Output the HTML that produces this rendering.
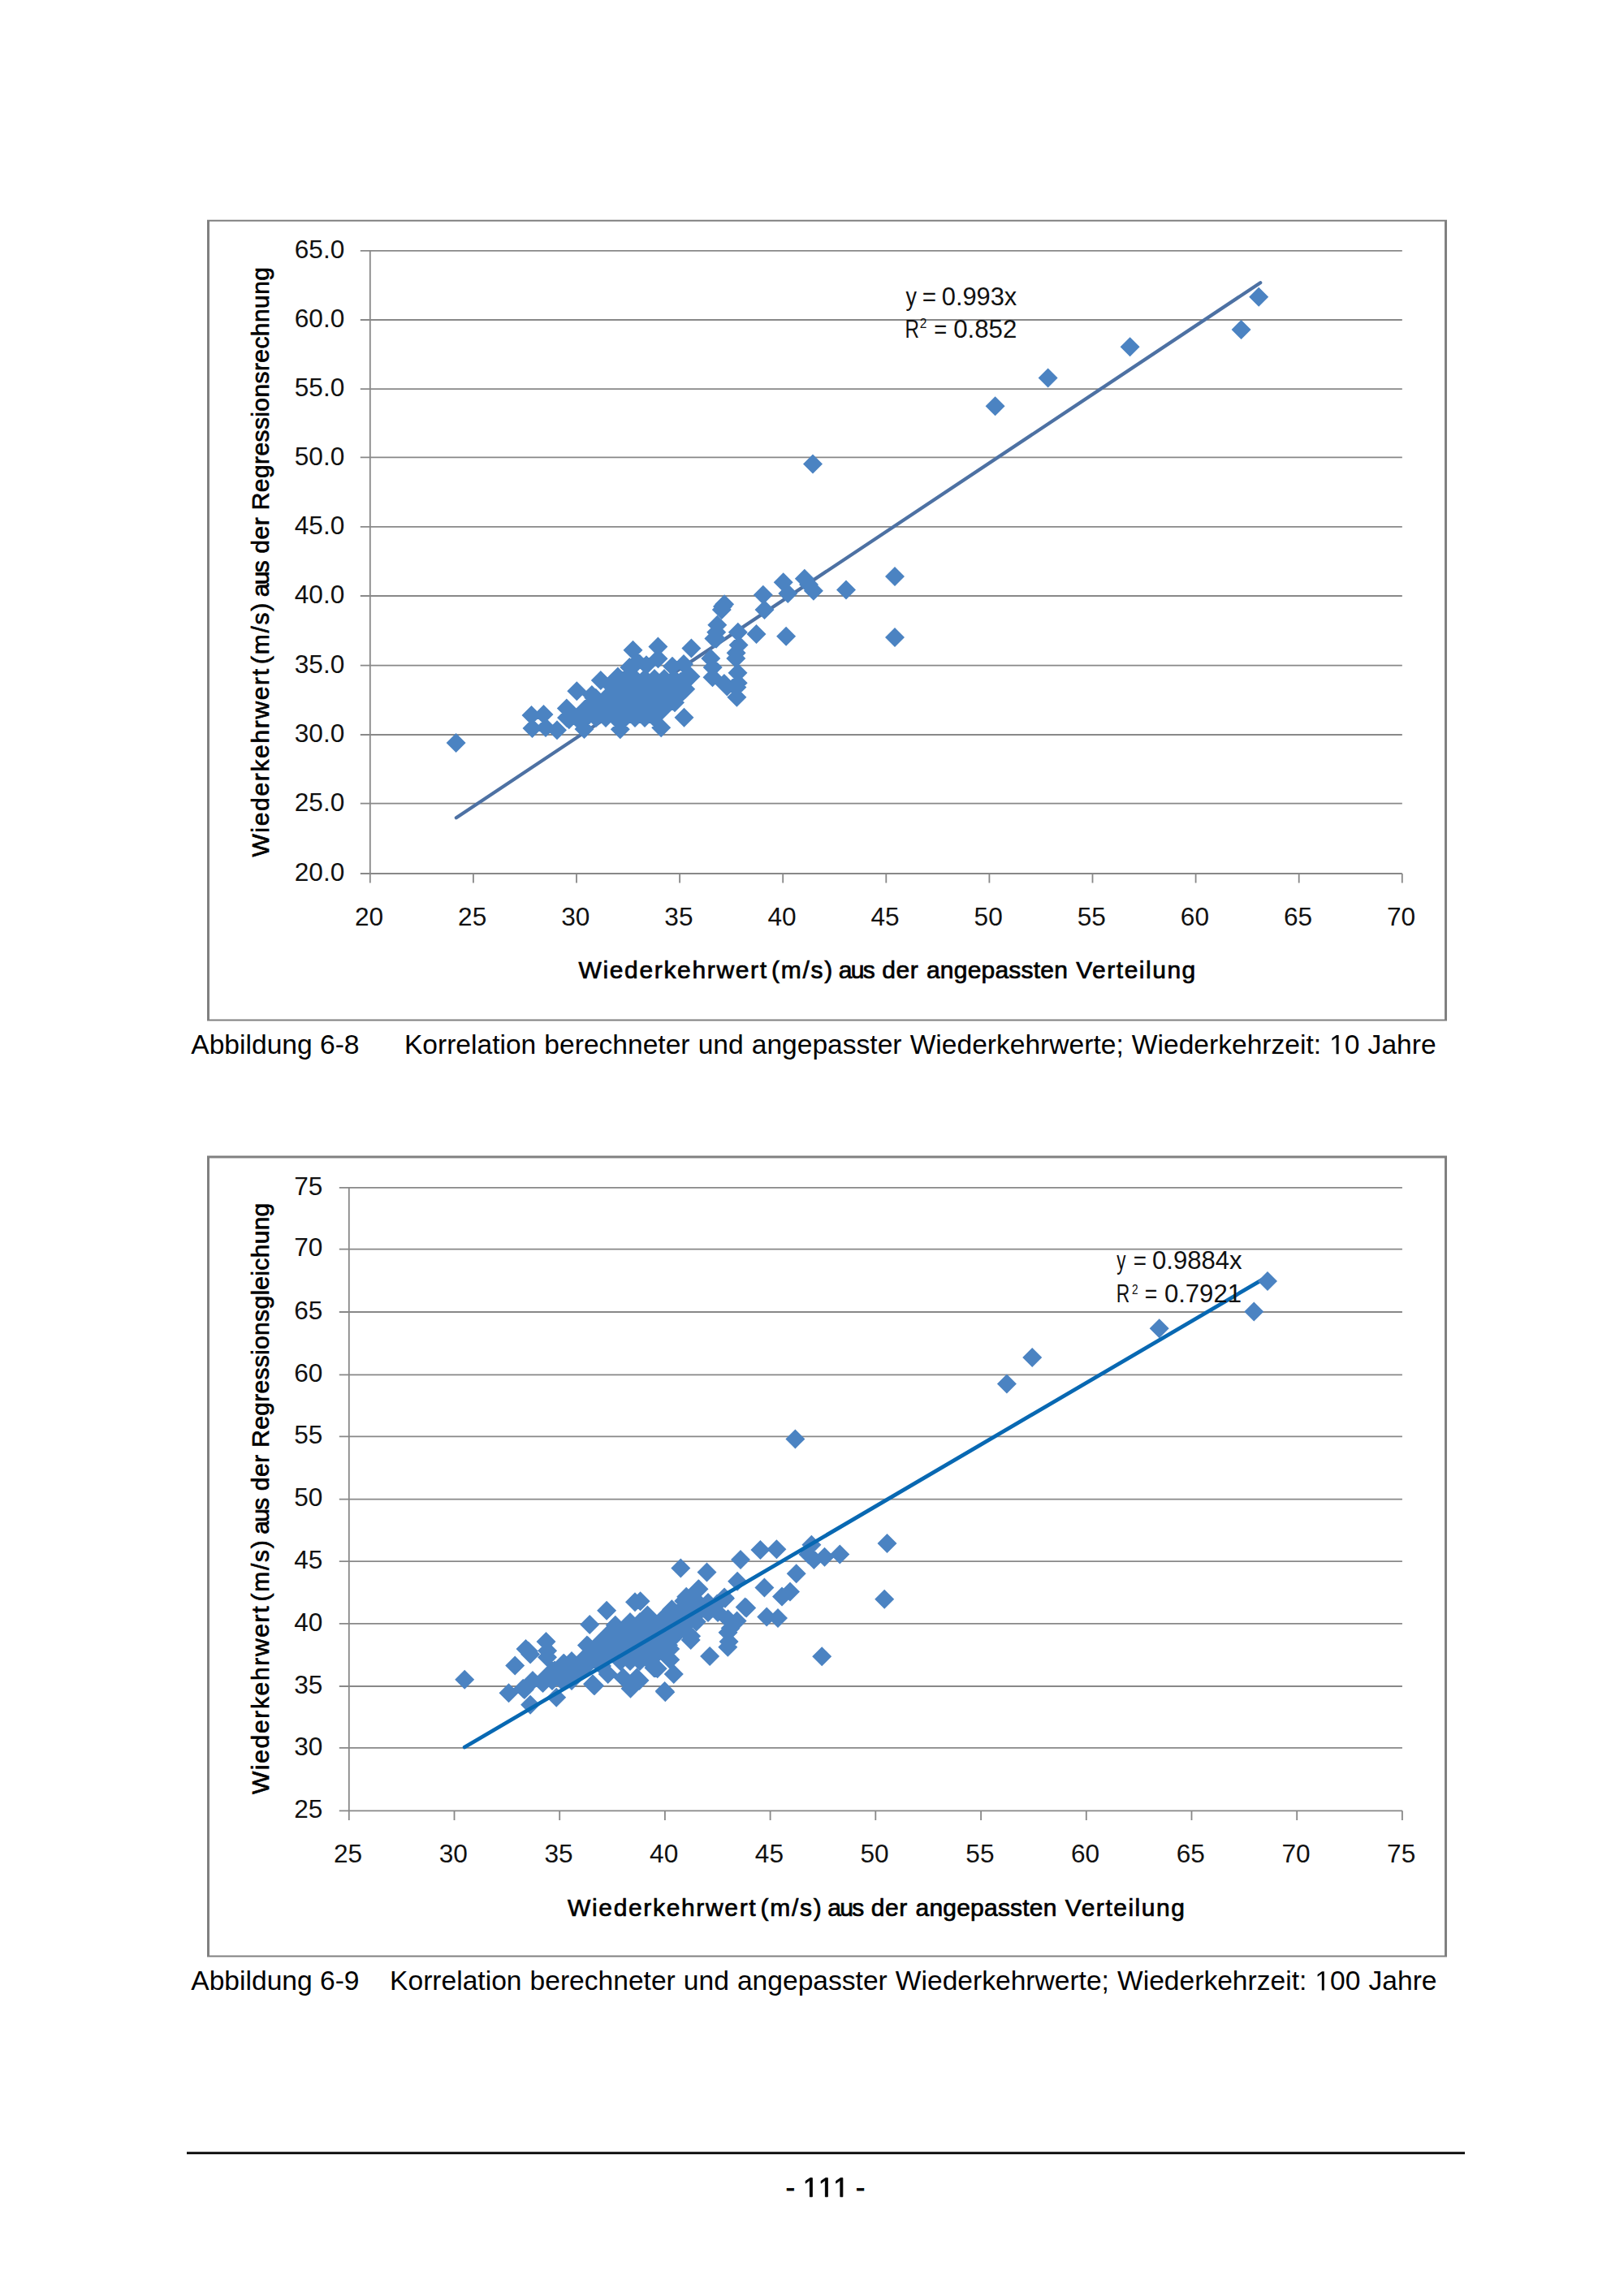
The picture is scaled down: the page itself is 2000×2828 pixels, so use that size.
<!DOCTYPE html>
<html><head><meta charset="utf-8"><title>Abbildung 6-8 / 6-9</title>
<style>
html,body{margin:0;padding:0;background:#fff;}
body{width:2000px;height:2828px;overflow:hidden;position:relative;font-family:"Liberation Sans",sans-serif;}
svg{position:absolute;left:0;top:0;}
svg text{font-family:"Liberation Sans",sans-serif;}
</style></head><body>
<svg width="2000" height="2828" viewBox="0 0 2000 2828">
<path fill="#808080" d="M255.0 270.8H1782.0V1257.5H255.0Z M258.0 272.8V1255.5H1779.0V272.8Z" fill-rule="evenodd"/>
<path d="M443.8 1076.0H1726.8M443.8 989.6H1726.8M443.8 905.0H1726.8M443.8 819.6H1726.8M443.8 734.0H1726.8M443.8 648.8H1726.8M443.8 563.3H1726.8M443.8 479.1H1726.8M443.8 394.0H1726.8M443.8 308.8H1726.8M455.8 1076.0V1087.6M582.9 1076.0V1087.6M710.0 1076.0V1087.6M837.1 1076.0V1087.6M964.2 1076.0V1087.6M1091.3 1076.0V1087.6M1218.4 1076.0V1087.6M1345.5 1076.0V1087.6M1472.6 1076.0V1087.6M1599.7 1076.0V1087.6M1726.8 1076.0V1087.6M455.8 308.8V1076.0" stroke="#888888" stroke-width="1.8" fill="none"/>
<g font-size="31.6" fill="#111"><text x="424.3" y="1085.2" text-anchor="end">20.0</text><text x="424.3" y="998.8" text-anchor="end">25.0</text><text x="424.3" y="914.2" text-anchor="end">30.0</text><text x="424.3" y="828.8" text-anchor="end">35.0</text><text x="424.3" y="743.2" text-anchor="end">40.0</text><text x="424.3" y="658.0" text-anchor="end">45.0</text><text x="424.3" y="572.5" text-anchor="end">50.0</text><text x="424.3" y="488.3" text-anchor="end">55.0</text><text x="424.3" y="403.2" text-anchor="end">60.0</text><text x="424.3" y="317.9" text-anchor="end">65.0</text><text x="454.6" y="1139.6" text-anchor="middle">20</text><text x="581.7" y="1139.6" text-anchor="middle">25</text><text x="708.8" y="1139.6" text-anchor="middle">30</text><text x="835.9" y="1139.6" text-anchor="middle">35</text><text x="963.0" y="1139.6" text-anchor="middle">40</text><text x="1090.1" y="1139.6" text-anchor="middle">45</text><text x="1217.2" y="1139.6" text-anchor="middle">50</text><text x="1344.3" y="1139.6" text-anchor="middle">55</text><text x="1471.4" y="1139.6" text-anchor="middle">60</text><text x="1598.5" y="1139.6" text-anchor="middle">65</text><text x="1725.6" y="1139.6" text-anchor="middle">70</text></g>
<g font-size="30" fill="#000" stroke="#000" stroke-width="0.7">
<text x="712.40" y="1205.4" textLength="231.69" lengthAdjust="spacing">Wiederkehrwert</text><text x="950.00" y="1205.4" textLength="75.20" lengthAdjust="spacing">(m/s)</text><text x="1032.77" y="1205.4" textLength="44.89" lengthAdjust="spacing">aus</text><text x="1086.16" y="1205.4" textLength="44.50" lengthAdjust="spacing">der</text><text x="1140.96" y="1205.4" textLength="173.86" lengthAdjust="spacing">angepassten</text><text x="1325.21" y="1205.4" textLength="147.05" lengthAdjust="spacing">Verteilung</text>
<g transform="translate(330.5 1055.8) rotate(-90)"><text x="0.20" y="0.0" textLength="231.69" lengthAdjust="spacing">Wiederkehrwert</text><text x="237.80" y="0.0" textLength="75.20" lengthAdjust="spacing">(m/s)</text><text x="320.57" y="0.0" textLength="44.89" lengthAdjust="spacing">aus</text><text x="373.96" y="0.0" textLength="44.50" lengthAdjust="spacing">der</text><text x="427.53" y="0.0" textLength="299.21" lengthAdjust="spacing">Regressionsrechnung</text></g>
</g>
<line x1="561.9" y1="1007.2" x2="1552.2" y2="348.2" stroke="#4d71a3" stroke-width="4.3" stroke-linecap="round"/>
<path fill="#4b83c2" d="M654.5 869.0L666.5 881.0L654.5 893.0L642.5 881.0ZM669.5 868.0L681.5 880.0L669.5 892.0L657.5 880.0ZM655.5 885.0L667.5 897.0L655.5 909.0L643.5 897.0ZM672.0 884.0L684.0 896.0L672.0 908.0L660.0 896.0ZM686.0 887.3L698.0 899.3L686.0 911.3L674.0 899.3ZM697.8 860.4L709.8 872.4L697.8 884.4L685.8 872.4ZM700.8 874.2L712.8 886.2L700.8 898.2L688.8 886.2ZM710.3 839.3L722.3 851.3L710.3 863.3L698.3 851.3ZM719.5 886.0L731.5 898.0L719.5 910.0L707.5 898.0ZM739.8 826.0L751.8 838.0L739.8 850.0L727.8 838.0ZM731.3 847.6L743.3 859.6L731.3 871.6L719.3 859.6ZM763.8 886.3L775.8 898.3L763.8 910.3L751.8 898.3ZM779.5 788.8L791.5 800.8L779.5 812.8L767.5 800.8ZM775.3 810.1L787.3 822.1L775.3 834.1L763.3 822.1ZM810.4 784.6L822.4 796.6L810.4 808.6L798.4 796.6ZM851.4 786.5L863.4 798.5L851.4 810.5L839.4 798.5ZM850.5 821.2L862.5 833.2L850.5 845.2L838.5 833.2ZM844.2 836.7L856.2 848.7L844.2 860.7L832.2 848.7ZM840.7 840.1L852.7 852.1L840.7 864.1L828.7 852.1ZM831.0 853.3L843.0 865.3L831.0 877.3L819.0 865.3ZM814.2 884.2L826.2 896.2L814.2 908.2L802.2 896.2ZM842.5 871.7L854.5 883.7L842.5 895.7L830.5 883.7ZM810.5 799.2L822.5 811.2L810.5 823.2L798.5 811.2ZM828.0 808.8L840.0 820.8L828.0 832.8L816.0 820.8ZM796.0 807.2L808.0 819.2L796.0 831.2L784.0 819.2ZM728.9 844.0L740.9 856.0L728.9 868.0L716.9 856.0ZM751.3 831.3L763.3 843.3L751.3 855.3L739.3 843.3ZM760.9 821.6L772.9 833.6L760.9 845.6L748.9 833.6ZM842.0 806.0L854.0 818.0L842.0 830.0L830.0 818.0ZM785.0 803.0L797.0 815.0L785.0 827.0L773.0 815.0ZM875.3 799.0L887.3 811.0L875.3 823.0L863.3 811.0ZM877.5 822.3L889.5 834.3L877.5 846.3L865.5 834.3ZM891.9 830.0L903.9 842.0L891.9 854.0L879.9 842.0ZM907.4 846.7L919.4 858.7L907.4 870.7L895.4 858.7ZM907.4 834.5L919.4 846.5L907.4 858.5L895.4 846.5ZM908.5 816.8L920.5 828.8L908.5 840.8L896.5 828.8ZM906.3 799.0L918.3 811.0L906.3 823.0L894.3 811.0ZM909.6 782.4L921.6 794.4L909.6 806.4L897.6 794.4ZM908.8 766.7L920.8 778.7L908.8 790.7L896.8 778.7ZM906.6 792.2L918.6 804.2L906.6 816.2L894.6 804.2ZM882.0 774.7L894.0 786.7L882.0 798.7L870.0 786.7ZM883.3 757.8L895.3 769.8L883.3 781.8L871.3 769.8ZM882.2 766.7L894.2 778.7L882.2 790.7L870.2 778.7ZM879.4 774.4L891.4 786.4L879.4 798.4L867.4 786.4ZM892.1 732.3L904.1 744.3L892.1 756.3L880.1 744.3ZM888.8 739.0L900.8 751.0L888.8 763.0L876.8 751.0ZM890.0 735.0L902.0 747.0L890.0 759.0L878.0 747.0ZM895.4 833.6L907.4 845.6L895.4 857.6L883.4 845.6ZM908.7 829.2L920.7 841.2L908.7 853.2L896.7 841.2ZM877.7 810.0L889.7 822.0L877.7 834.0L865.7 822.0ZM931.5 768.9L943.5 780.9L931.5 792.9L919.5 780.9ZM968.1 771.7L980.1 783.7L968.1 795.7L956.1 783.7ZM939.8 720.7L951.8 732.7L939.8 744.7L927.8 732.7ZM941.5 739.0L953.5 751.0L941.5 763.0L929.5 751.0ZM964.7 705.2L976.7 717.2L964.7 729.2L952.7 717.2ZM970.3 719.0L982.3 731.0L970.3 743.0L958.3 731.0ZM990.8 700.7L1002.8 712.7L990.8 724.7L978.8 712.7ZM1001.9 715.7L1013.9 727.7L1001.9 739.7L989.9 727.7ZM996.0 708.0L1008.0 720.0L996.0 732.0L984.0 720.0ZM1042.0 714.6L1054.0 726.6L1042.0 738.6L1030.0 726.6ZM1102.0 697.9L1114.0 709.9L1102.0 721.9L1090.0 709.9ZM1102.0 773.0L1114.0 785.0L1102.0 797.0L1090.0 785.0ZM561.6 903.0L573.6 915.0L561.6 927.0L549.6 915.0ZM1001.0 559.4L1013.0 571.4L1001.0 583.4L989.0 571.4ZM1225.6 488.3L1237.6 500.3L1225.6 512.3L1213.6 500.3ZM1290.6 453.5L1302.6 465.5L1290.6 477.5L1278.6 465.5ZM1391.6 415.3L1403.6 427.3L1391.6 439.3L1379.6 427.3ZM1528.6 394.0L1540.6 406.0L1528.6 418.0L1516.6 406.0ZM1550.2 353.7L1562.2 365.7L1550.2 377.7L1538.2 365.7ZM770.0 824.0L782.0 836.0L770.0 848.0L758.0 836.0ZM782.0 824.0L794.0 836.0L782.0 848.0L770.0 836.0ZM794.0 824.0L806.0 836.0L794.0 848.0L782.0 836.0ZM806.0 824.0L818.0 836.0L806.0 848.0L794.0 836.0ZM818.0 824.0L830.0 836.0L818.0 848.0L806.0 836.0ZM830.0 824.0L842.0 836.0L830.0 848.0L818.0 836.0ZM842.0 824.0L854.0 836.0L842.0 848.0L830.0 836.0ZM758.0 836.0L770.0 848.0L758.0 860.0L746.0 848.0ZM770.0 836.0L782.0 848.0L770.0 860.0L758.0 848.0ZM782.0 836.0L794.0 848.0L782.0 860.0L770.0 848.0ZM794.0 836.0L806.0 848.0L794.0 860.0L782.0 848.0ZM806.0 836.0L818.0 848.0L806.0 860.0L794.0 848.0ZM818.0 836.0L830.0 848.0L818.0 860.0L806.0 848.0ZM830.0 836.0L842.0 848.0L830.0 860.0L818.0 848.0ZM842.0 836.0L854.0 848.0L842.0 860.0L830.0 848.0ZM734.0 848.0L746.0 860.0L734.0 872.0L722.0 860.0ZM746.0 848.0L758.0 860.0L746.0 872.0L734.0 860.0ZM758.0 848.0L770.0 860.0L758.0 872.0L746.0 860.0ZM770.0 848.0L782.0 860.0L770.0 872.0L758.0 860.0ZM782.0 848.0L794.0 860.0L782.0 872.0L770.0 860.0ZM794.0 848.0L806.0 860.0L794.0 872.0L782.0 860.0ZM806.0 848.0L818.0 860.0L806.0 872.0L794.0 860.0ZM818.0 848.0L830.0 860.0L818.0 872.0L806.0 860.0ZM830.0 848.0L842.0 860.0L830.0 872.0L818.0 860.0ZM722.0 860.0L734.0 872.0L722.0 884.0L710.0 872.0ZM734.0 860.0L746.0 872.0L734.0 884.0L722.0 872.0ZM746.0 860.0L758.0 872.0L746.0 884.0L734.0 872.0ZM758.0 860.0L770.0 872.0L758.0 884.0L746.0 872.0ZM770.0 860.0L782.0 872.0L770.0 884.0L758.0 872.0ZM782.0 860.0L794.0 872.0L782.0 884.0L770.0 872.0ZM794.0 860.0L806.0 872.0L794.0 884.0L782.0 872.0ZM806.0 860.0L818.0 872.0L806.0 884.0L794.0 872.0ZM818.0 860.0L830.0 872.0L818.0 884.0L806.0 872.0ZM698.0 872.0L710.0 884.0L698.0 896.0L686.0 884.0ZM710.0 872.0L722.0 884.0L710.0 896.0L698.0 884.0ZM722.0 872.0L734.0 884.0L722.0 896.0L710.0 884.0ZM734.0 872.0L746.0 884.0L734.0 896.0L722.0 884.0ZM746.0 872.0L758.0 884.0L746.0 896.0L734.0 884.0ZM758.0 872.0L770.0 884.0L758.0 896.0L746.0 884.0ZM770.0 872.0L782.0 884.0L770.0 896.0L758.0 884.0ZM782.0 872.0L794.0 884.0L782.0 896.0L770.0 884.0ZM794.0 872.0L806.0 884.0L794.0 896.0L782.0 884.0ZM806.0 872.0L818.0 884.0L806.0 896.0L794.0 884.0Z"/>
<g font-size="31.6" fill="#111"><text x="1115.43" y="375.5" textLength="13.42" lengthAdjust="spacingAndGlyphs">y</text><text x="1135.65" y="375.5" textLength="17.31" lengthAdjust="spacingAndGlyphs">=</text><text x="1159.80" y="375.5" textLength="92.43" lengthAdjust="spacingAndGlyphs">0.993x</text><text x="1114.61" y="415.9" textLength="17.51" lengthAdjust="spacingAndGlyphs">R</text><text x="1150.16" y="415.9" textLength="15.99" lengthAdjust="spacingAndGlyphs">=</text><text x="1174.18" y="415.9" textLength="78.09" lengthAdjust="spacingAndGlyphs">0.852</text><text x="1132.8" y="404.3" font-size="15.8" textLength="8.6" lengthAdjust="spacingAndGlyphs">2</text></g>
<path fill="#808080" d="M255.0 1423.6H1782.0V2410.6H255.0Z M258.0 1426.4V2408.5H1779.0V1426.4Z" fill-rule="evenodd"/>
<path d="M417.8 2230.3H1726.9M417.8 2152.9H1726.9M417.8 2077.0H1726.9M417.8 1999.8H1726.9M417.8 1923.1H1726.9M417.8 1846.6H1726.9M417.8 1769.3H1726.9M417.8 1693.4H1726.9M417.8 1616.0H1726.9M417.8 1538.7H1726.9M417.8 1462.9H1726.9M429.8 2230.3V2241.9M559.5 2230.3V2241.9M689.2 2230.3V2241.9M818.9 2230.3V2241.9M948.6 2230.3V2241.9M1078.3 2230.3V2241.9M1208.1 2230.3V2241.9M1337.8 2230.3V2241.9M1467.5 2230.3V2241.9M1597.2 2230.3V2241.9M1726.9 2230.3V2241.9M429.8 1462.9V2230.3" stroke="#888888" stroke-width="1.8" fill="none"/>
<g font-size="31.6" fill="#111"><text x="397.4" y="2239.0" text-anchor="end">25</text><text x="397.4" y="2161.6" text-anchor="end">30</text><text x="397.4" y="2085.7" text-anchor="end">35</text><text x="397.4" y="2008.5" text-anchor="end">40</text><text x="397.4" y="1931.8" text-anchor="end">45</text><text x="397.4" y="1855.3" text-anchor="end">50</text><text x="397.4" y="1778.0" text-anchor="end">55</text><text x="397.4" y="1702.1" text-anchor="end">60</text><text x="397.4" y="1624.7" text-anchor="end">65</text><text x="397.4" y="1547.4" text-anchor="end">70</text><text x="397.4" y="1471.6" text-anchor="end">75</text><text x="428.6" y="2293.6" text-anchor="middle">25</text><text x="558.3" y="2293.6" text-anchor="middle">30</text><text x="688.0" y="2293.6" text-anchor="middle">35</text><text x="817.7" y="2293.6" text-anchor="middle">40</text><text x="947.4" y="2293.6" text-anchor="middle">45</text><text x="1077.1" y="2293.6" text-anchor="middle">50</text><text x="1206.9" y="2293.6" text-anchor="middle">55</text><text x="1336.6" y="2293.6" text-anchor="middle">60</text><text x="1466.3" y="2293.6" text-anchor="middle">65</text><text x="1596.0" y="2293.6" text-anchor="middle">70</text><text x="1725.7" y="2293.6" text-anchor="middle">75</text></g>
<g font-size="30" fill="#000" stroke="#000" stroke-width="0.7">
<text x="699.00" y="2359.9" textLength="231.69" lengthAdjust="spacing">Wiederkehrwert</text><text x="936.60" y="2359.9" textLength="75.20" lengthAdjust="spacing">(m/s)</text><text x="1019.37" y="2359.9" textLength="44.89" lengthAdjust="spacing">aus</text><text x="1072.76" y="2359.9" textLength="44.50" lengthAdjust="spacing">der</text><text x="1127.56" y="2359.9" textLength="173.86" lengthAdjust="spacing">angepassten</text><text x="1311.81" y="2359.9" textLength="147.05" lengthAdjust="spacing">Verteilung</text>
<g transform="translate(330.5 2210.3) rotate(-90)"><text x="0.20" y="0.0" textLength="231.69" lengthAdjust="spacing">Wiederkehrwert</text><text x="237.80" y="0.0" textLength="75.20" lengthAdjust="spacing">(m/s)</text><text x="320.57" y="0.0" textLength="44.89" lengthAdjust="spacing">aus</text><text x="373.96" y="0.0" textLength="44.50" lengthAdjust="spacing">der</text><text x="427.54" y="0.0" textLength="301.08" lengthAdjust="spacing">Regressionsgleichung</text></g>
</g>
<path fill="#4b83c2" d="M572.2 2056.7L584.2 2068.7L572.2 2080.7L560.2 2068.7ZM979.4 1760.4L991.4 1772.4L979.4 1784.4L967.4 1772.4ZM1239.9 1692.5L1251.9 1704.5L1239.9 1716.5L1227.9 1704.5ZM1271.2 1660.0L1283.2 1672.0L1271.2 1684.0L1259.2 1672.0ZM1427.7 1624.3L1439.7 1636.3L1427.7 1648.3L1415.7 1636.3ZM1544.3 1603.4L1556.3 1615.4L1544.3 1627.4L1532.3 1615.4ZM1092.5 1889.1L1104.5 1901.1L1092.5 1913.1L1080.5 1901.1ZM1089.2 1957.8L1101.2 1969.8L1089.2 1981.8L1077.2 1969.8ZM1012.2 2028.3L1024.2 2040.3L1012.2 2052.3L1000.2 2040.3ZM634.2 2039.5L646.2 2051.5L634.2 2063.5L622.2 2051.5ZM647.5 2019.0L659.5 2031.0L647.5 2043.0L635.5 2031.0ZM653.1 2025.6L665.1 2037.6L653.1 2049.6L641.1 2037.6ZM672.5 2010.1L684.5 2022.1L672.5 2034.1L660.5 2022.1ZM674.1 2021.2L686.1 2033.2L674.1 2045.2L662.1 2033.2ZM626.5 2073.3L638.5 2085.3L626.5 2097.3L614.5 2085.3ZM644.2 2067.8L656.2 2079.8L644.2 2091.8L632.2 2079.8ZM668.6 2061.1L680.6 2073.1L668.6 2085.1L656.6 2073.1ZM685.2 2078.8L697.2 2090.8L685.2 2102.8L673.2 2090.8ZM653.1 2087.7L665.1 2099.7L653.1 2111.7L641.1 2099.7ZM726.2 1989.1L738.2 2001.1L726.2 2013.1L714.2 2001.1ZM722.9 2014.6L734.9 2026.6L722.9 2038.6L710.9 2026.6ZM694.1 2036.7L706.1 2048.7L694.1 2060.7L682.1 2048.7ZM683.0 2045.6L695.0 2057.6L683.0 2069.6L671.0 2057.6ZM747.1 1971.8L759.1 1983.8L747.1 1995.8L735.1 1983.8ZM782.0 1961.3L794.0 1973.3L782.0 1985.3L770.0 1973.3ZM788.6 1960.2L800.6 1972.2L788.6 1984.2L776.6 1972.2ZM796.4 1979.0L808.4 1991.0L796.4 2003.0L784.4 1991.0ZM827.4 1970.2L839.4 1982.2L827.4 1994.2L815.4 1982.2ZM845.2 1954.7L857.2 1966.7L845.2 1978.7L833.2 1966.7ZM850.7 2007.9L862.7 2019.9L850.7 2031.9L838.7 2019.9ZM829.7 2050.0L841.7 2062.0L829.7 2074.0L817.7 2062.0ZM818.6 2071.0L830.6 2083.0L818.6 2095.0L806.6 2083.0ZM806.4 2042.2L818.4 2054.2L806.4 2066.2L794.4 2054.2ZM776.5 2067.7L788.5 2079.7L776.5 2091.7L764.5 2079.7ZM784.2 2054.4L796.2 2066.4L784.2 2078.4L772.2 2066.4ZM730.0 2062.2L742.0 2074.2L730.0 2086.2L718.0 2074.2ZM823.0 2014.5L835.0 2026.5L823.0 2038.5L811.0 2026.5ZM838.3 1919.6L850.3 1931.6L838.3 1943.6L826.3 1931.6ZM870.5 1924.6L882.5 1936.6L870.5 1948.6L858.5 1936.6ZM912.0 1909.1L924.0 1921.1L912.0 1933.1L900.0 1921.1ZM936.4 1896.9L948.4 1908.9L936.4 1920.9L924.4 1908.9ZM956.4 1896.3L968.4 1908.3L956.4 1920.3L944.4 1908.3ZM1002.4 1909.1L1014.4 1921.1L1002.4 1933.1L990.4 1921.1ZM999.4 1890.7L1011.4 1902.7L999.4 1914.7L987.4 1902.7ZM980.7 1926.2L992.7 1938.2L980.7 1950.2L968.7 1938.2ZM941.4 1943.4L953.4 1955.4L941.4 1967.4L929.4 1955.4ZM908.1 1935.7L920.1 1947.7L908.1 1959.7L896.1 1947.7ZM963.0 1954.5L975.0 1966.5L963.0 1978.5L951.0 1966.5ZM973.0 1948.4L985.0 1960.4L973.0 1972.4L961.0 1960.4ZM919.2 1968.4L931.2 1980.4L919.2 1992.4L907.2 1980.4ZM944.2 1979.4L956.2 1991.4L944.2 2003.4L932.2 1991.4ZM958.0 1981.1L970.0 1993.1L958.0 2005.1L946.0 1993.1ZM896.5 1982.2L908.5 1994.2L896.5 2006.2L884.5 1994.2ZM907.6 1984.4L919.6 1996.4L907.6 2008.4L895.6 1996.4ZM896.5 1998.8L908.5 2010.8L896.5 2022.8L884.5 2010.8ZM897.6 2009.9L909.6 2021.9L897.6 2033.9L885.6 2021.9ZM859.9 1945.6L871.9 1957.6L859.9 1969.6L847.9 1957.6ZM842.2 1960.0L854.2 1972.0L842.2 1984.0L830.2 1972.0ZM892.1 1955.6L904.1 1967.6L892.1 1979.6L880.1 1967.6ZM883.2 1963.4L895.2 1975.4L883.2 1987.4L871.2 1975.4ZM871.0 1965.6L883.0 1977.6L871.0 1989.6L859.0 1977.6ZM857.7 1985.5L869.7 1997.5L857.7 2009.5L845.7 1997.5ZM851.1 2003.3L863.1 2015.3L851.1 2027.3L839.1 2015.3ZM1015.5 1905.7L1027.5 1917.7L1015.5 1929.7L1003.5 1917.7ZM1034.3 1902.4L1046.3 1914.4L1034.3 1926.4L1022.3 1914.4ZM995.5 1902.5L1007.5 1914.5L995.5 1926.5L983.5 1914.5ZM860.5 1945.3L872.5 1957.3L860.5 1969.3L848.5 1957.3ZM827.0 1970.5L839.0 1982.5L827.0 1994.5L815.0 1982.5ZM893.0 1956.7L905.0 1968.7L893.0 1980.7L881.0 1968.7ZM917.6 1967.5L929.6 1979.5L917.6 1991.5L905.6 1979.5ZM797.4 1977.4L809.4 1989.4L797.4 2001.4L785.4 1989.4ZM819.3 2072.2L831.3 2084.2L819.3 2096.2L807.3 2084.2ZM829.8 2050.1L841.8 2062.1L829.8 2074.1L817.8 2062.1ZM805.4 2042.3L817.4 2054.3L805.4 2066.3L793.4 2054.3ZM874.1 2027.9L886.1 2039.9L874.1 2051.9L862.1 2039.9ZM896.3 2016.8L908.3 2028.8L896.3 2040.8L884.3 2028.8ZM899.6 1993.5L911.6 2005.5L899.6 2017.5L887.6 2005.5ZM825.3 2032.3L837.3 2044.3L825.3 2056.3L813.3 2044.3ZM825.3 2019.0L837.3 2031.0L825.3 2043.0L813.3 2031.0ZM784.3 2054.5L796.3 2066.5L784.3 2078.5L772.3 2066.5ZM748.7 2050.0L760.7 2062.0L748.7 2074.0L736.7 2062.0ZM767.6 2054.4L779.6 2066.4L767.6 2078.4L755.6 2066.4ZM787.5 2057.7L799.5 2069.7L787.5 2081.7L775.5 2069.7ZM741.0 2040.0L753.0 2052.0L741.0 2064.0L729.0 2052.0ZM800.8 2034.5L812.8 2046.5L800.8 2058.5L788.8 2046.5ZM809.7 2043.3L821.7 2055.3L809.7 2067.3L797.7 2055.3ZM732.1 2064.2L744.1 2076.2L732.1 2088.2L720.1 2076.2ZM650.8 2021.8L662.8 2033.8L650.8 2045.8L638.8 2033.8ZM645.9 2069.1L657.9 2081.1L645.9 2093.1L633.9 2081.1ZM674.0 2029.2L686.0 2041.2L674.0 2053.2L662.0 2041.2ZM694.7 2037.1L706.7 2049.1L694.7 2061.1L682.7 2049.1ZM724.3 2015.4L736.3 2027.4L724.3 2039.4L712.3 2027.4ZM746.0 2010.5L758.0 2022.5L746.0 2034.5L734.0 2022.5ZM757.8 1989.8L769.8 2001.8L757.8 2013.8L745.8 2001.8ZM667.1 2059.8L679.1 2071.8L667.1 2083.8L655.1 2071.8ZM731.2 2063.7L743.2 2075.7L731.2 2087.7L719.2 2075.7ZM860.0 1962.0L872.0 1974.0L860.0 1986.0L848.0 1974.0ZM872.0 1962.0L884.0 1974.0L872.0 1986.0L860.0 1974.0ZM824.0 1974.0L836.0 1986.0L824.0 1998.0L812.0 1986.0ZM836.0 1974.0L848.0 1986.0L836.0 1998.0L824.0 1986.0ZM848.0 1974.0L860.0 1986.0L848.0 1998.0L836.0 1986.0ZM860.0 1974.0L872.0 1986.0L860.0 1998.0L848.0 1986.0ZM872.0 1974.0L884.0 1986.0L872.0 1998.0L860.0 1986.0ZM884.0 1974.0L896.0 1986.0L884.0 1998.0L872.0 1986.0ZM776.0 1986.0L788.0 1998.0L776.0 2010.0L764.0 1998.0ZM788.0 1986.0L800.0 1998.0L788.0 2010.0L776.0 1998.0ZM800.0 1986.0L812.0 1998.0L800.0 2010.0L788.0 1998.0ZM812.0 1986.0L824.0 1998.0L812.0 2010.0L800.0 1998.0ZM824.0 1986.0L836.0 1998.0L824.0 2010.0L812.0 1998.0ZM836.0 1986.0L848.0 1998.0L836.0 2010.0L824.0 1998.0ZM848.0 1986.0L860.0 1998.0L848.0 2010.0L836.0 1998.0ZM752.0 1998.0L764.0 2010.0L752.0 2022.0L740.0 2010.0ZM764.0 1998.0L776.0 2010.0L764.0 2022.0L752.0 2010.0ZM776.0 1998.0L788.0 2010.0L776.0 2022.0L764.0 2010.0ZM788.0 1998.0L800.0 2010.0L788.0 2022.0L776.0 2010.0ZM800.0 1998.0L812.0 2010.0L800.0 2022.0L788.0 2010.0ZM812.0 1998.0L824.0 2010.0L812.0 2022.0L800.0 2010.0ZM824.0 1998.0L836.0 2010.0L824.0 2022.0L812.0 2010.0ZM836.0 1998.0L848.0 2010.0L836.0 2022.0L824.0 2010.0ZM740.0 2010.0L752.0 2022.0L740.0 2034.0L728.0 2022.0ZM752.0 2010.0L764.0 2022.0L752.0 2034.0L740.0 2022.0ZM764.0 2010.0L776.0 2022.0L764.0 2034.0L752.0 2022.0ZM776.0 2010.0L788.0 2022.0L776.0 2034.0L764.0 2022.0ZM788.0 2010.0L800.0 2022.0L788.0 2034.0L776.0 2022.0ZM800.0 2010.0L812.0 2022.0L800.0 2034.0L788.0 2022.0ZM812.0 2010.0L824.0 2022.0L812.0 2034.0L800.0 2022.0ZM824.0 2010.0L836.0 2022.0L824.0 2034.0L812.0 2022.0ZM728.0 2022.0L740.0 2034.0L728.0 2046.0L716.0 2034.0ZM740.0 2022.0L752.0 2034.0L740.0 2046.0L728.0 2034.0ZM752.0 2022.0L764.0 2034.0L752.0 2046.0L740.0 2034.0ZM764.0 2022.0L776.0 2034.0L764.0 2046.0L752.0 2034.0ZM776.0 2022.0L788.0 2034.0L776.0 2046.0L764.0 2034.0ZM788.0 2022.0L800.0 2034.0L788.0 2046.0L776.0 2034.0ZM800.0 2022.0L812.0 2034.0L800.0 2046.0L788.0 2034.0ZM812.0 2022.0L824.0 2034.0L812.0 2046.0L800.0 2034.0ZM704.0 2034.0L716.0 2046.0L704.0 2058.0L692.0 2046.0ZM716.0 2034.0L728.0 2046.0L716.0 2058.0L704.0 2046.0ZM728.0 2034.0L740.0 2046.0L728.0 2058.0L716.0 2046.0ZM740.0 2034.0L752.0 2046.0L740.0 2058.0L728.0 2046.0ZM764.0 2034.0L776.0 2046.0L764.0 2058.0L752.0 2046.0ZM776.0 2034.0L788.0 2046.0L776.0 2058.0L764.0 2046.0ZM788.0 2034.0L800.0 2046.0L788.0 2058.0L776.0 2046.0ZM800.0 2034.0L812.0 2046.0L800.0 2058.0L788.0 2046.0ZM680.0 2046.0L692.0 2058.0L680.0 2070.0L668.0 2058.0ZM692.0 2046.0L704.0 2058.0L692.0 2070.0L680.0 2058.0ZM704.0 2046.0L716.0 2058.0L704.0 2070.0L692.0 2058.0ZM716.0 2046.0L728.0 2058.0L716.0 2070.0L704.0 2058.0ZM656.0 2058.0L668.0 2070.0L656.0 2082.0L644.0 2070.0ZM668.0 2058.0L680.0 2070.0L668.0 2082.0L656.0 2070.0ZM680.0 2058.0L692.0 2070.0L680.0 2082.0L668.0 2070.0ZM692.0 2058.0L704.0 2070.0L692.0 2082.0L680.0 2070.0ZM704.0 2058.0L716.0 2070.0L704.0 2082.0L692.0 2070.0Z"/>
<line x1="572.2" y1="2152.0" x2="1561.0" y2="1572.4" stroke="#0868b2" stroke-width="4.8" stroke-linecap="round"/>
<path fill="#4b83c2" d="M1561.0 1566.1L1573.0 1578.1L1561.0 1590.1L1549.0 1578.1Z"/>
<g font-size="31.6" fill="#111"><text x="1375.35" y="1563.3" textLength="11.20" lengthAdjust="spacingAndGlyphs">y</text><text x="1395.64" y="1563.3" textLength="16.23" lengthAdjust="spacingAndGlyphs">=</text><text x="1419.09" y="1563.3" textLength="110.55" lengthAdjust="spacingAndGlyphs">0.9884x</text><text x="1374.72" y="1603.9" textLength="16.54" lengthAdjust="spacingAndGlyphs">R</text><text x="1409.80" y="1603.9" textLength="15.51" lengthAdjust="spacingAndGlyphs">=</text><text x="1433.89" y="1603.9" textLength="95.13" lengthAdjust="spacingAndGlyphs">0.7921</text><text x="1394.0" y="1593.6" font-size="15.8" textLength="7.6" lengthAdjust="spacingAndGlyphs">2</text></g>
<g font-size="33.6" fill="#000" id="captions">
<text x="235.3" y="1298.2">Abbildung 6-8</text>
<text x="497.9" y="1298.2" word-spacing="0.75">Korrelation berechneter und angepasster Wiederkehrwerte; Wiederkehrzeit: </text>
<path d="M1645.63 1298.20L1645.63 1277.91L1640.41 1281.63L1640.41 1278.84L1645.88 1275.08L1648.60 1275.08L1648.60 1298.20Z"/>
<text x="1655.87" y="1298.2" word-spacing="0.75">0 Jahre</text>
<text x="235.3" y="2451.4">Abbildung 6-9</text>
<text x="480.1" y="2451.4" word-spacing="0.75">Korrelation berechneter und angepasster Wiederkehrwerte; Wiederkehrzeit: </text>
<path d="M1627.83 2451.40L1627.83 2431.11L1622.61 2434.83L1622.61 2432.04L1628.08 2428.28L1630.80 2428.28L1630.80 2451.40Z"/>
<text x="1638.07" y="2451.4" word-spacing="0.75">00 Jahre</text>
<g stroke="#000" stroke-width="0.9">
<text x="967.8" y="2706.2">-</text>
<path d="M997.37 2705.75L997.37 2685.46L992.15 2689.18L992.15 2686.39L997.61 2682.63L1000.34 2682.63L1000.34 2705.75Z"/>
<path d="M1016.37 2705.75L1016.37 2685.46L1011.15 2689.18L1011.15 2686.39L1016.61 2682.63L1019.34 2682.63L1019.34 2705.75Z"/>
<path d="M1034.87 2705.75L1034.87 2685.46L1029.65 2689.18L1029.65 2686.39L1035.11 2682.63L1037.84 2682.63L1037.84 2705.75Z"/>
<text x="1054.0" y="2706.2">-</text>
</g>
</g>
<rect x="230" y="2650.5" width="1574" height="2.8" fill="#000"/>
</svg>
</body></html>
